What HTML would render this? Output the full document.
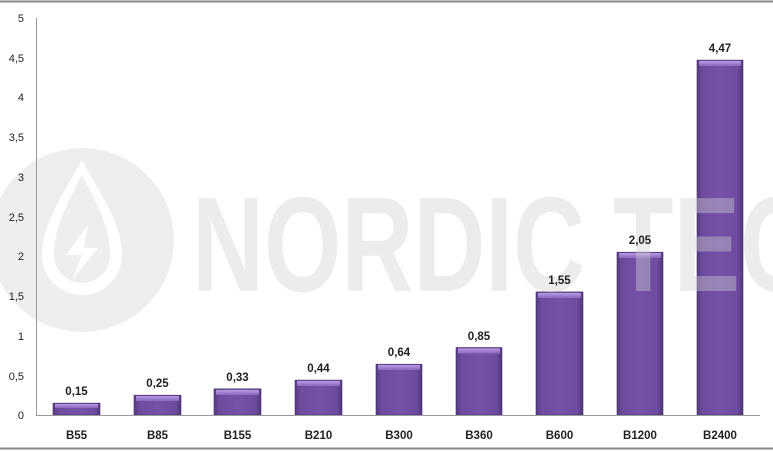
<!DOCTYPE html>
<html><head><meta charset="utf-8"><style>
body{margin:0;background:#fff;}
svg{display:block;font-family:"Liberation Sans",sans-serif;}
</style></head><body>
<svg width="773" height="451" viewBox="0 0 773 451">
<defs>
<linearGradient id="g" x1="0" x2="1" y1="0" y2="0">
<stop offset="0" stop-color="#553a80"/><stop offset="0.12" stop-color="#6e4c9f"/><stop offset="0.5" stop-color="#7551a8"/><stop offset="0.88" stop-color="#6e4c9f"/><stop offset="1" stop-color="#50377a"/>
</linearGradient>
<linearGradient id="t" x1="0" x2="0" y1="0" y2="1">
<stop offset="0" stop-color="#b79be0"/><stop offset="1" stop-color="#8a66c0"/>
</linearGradient>
</defs>
<rect width="773" height="451" fill="#fff"/>
<line x1="0" y1="1.5" x2="773" y2="1.5" stroke="#888" stroke-width="2"/>
<line x1="0" y1="448.5" x2="773" y2="448.5" stroke="#888" stroke-width="2"/>
<g stroke="#4a3270" stroke-width="0.6" fill="url(#g)">
<rect x="53" y="403.1" width="47" height="11.9"/>
<rect x="134" y="395.2" width="47" height="19.8"/>
<rect x="214" y="388.8" width="47" height="26.2"/>
<rect x="295" y="380.1" width="47" height="34.9"/>
<rect x="376" y="364.2" width="46" height="50.8"/>
<rect x="456" y="347.5" width="46" height="67.5"/>
<rect x="536" y="291.9" width="47" height="123.1"/>
<rect x="617" y="252.2" width="46" height="162.8"/>
<rect x="697" y="60.1" width="46" height="354.9"/>
</g>
<g fill="url(#t)">
<rect x="55" y="404" width="43" height="4"/>
<rect x="136" y="396" width="43" height="5"/>
<rect x="216" y="390" width="43" height="5"/>
<rect x="297" y="381" width="43" height="5"/>
<rect x="378" y="365" width="42" height="5"/>
<rect x="458" y="348.5" width="42" height="5"/>
<rect x="538" y="293" width="43" height="5"/>
<rect x="619" y="253" width="42" height="5"/>
<rect x="699" y="61" width="42" height="5"/>
</g>
<g opacity="0.4">
<circle cx="82" cy="240" r="92" fill="#d6d6d6"/>
<path d="M82 160 C60 200 42 225 42 255 A40 40 0 0 0 122 255 C122 225 104 200 82 160Z" fill="#fff"/>
<path d="M82 175 C66 205 54 228 54 255 A28 28 0 0 0 110 255 C110 228 98 205 82 175Z" fill="#d6d6d6"/>
<path d="M88 225 L66 255 L82 255 L72 280 L98 248 L84 248 Z" fill="#fff"/>
<text x="192" y="291" font-family="'Liberation Sans Narrow','Liberation Sans',sans-serif" font-size="135" font-weight="bold" fill="#d2d2d2" textLength="620" lengthAdjust="spacingAndGlyphs">NORDIC TEC</text>
</g>
<g font-size="11" fill="#222" text-anchor="end">
<text x="24" y="419">0</text><text x="24" y="380">0,5</text><text x="24" y="340">1</text><text x="24" y="300">1,5</text><text x="24" y="260">2</text><text x="24" y="221">2,5</text><text x="24" y="181">3</text><text x="24" y="141">3,5</text><text x="24" y="101">4</text><text x="24" y="62">4,5</text><text x="24" y="22">5</text>
</g>
<g font-size="11.5" font-weight="bold" fill="#222" text-anchor="middle">
<text x="76.5" y="395">0,15</text>
<text x="157.5" y="387">0,25</text>
<text x="237.5" y="381">0,33</text>
<text x="318.5" y="372">0,44</text>
<text x="399" y="356">0,64</text>
<text x="479" y="340">0,85</text>
<text x="559.5" y="284">1,55</text>
<text x="640" y="244">2,05</text>
<text x="720" y="52">4,47</text>
<text x="76.5" y="439">B55</text>
<text x="157.5" y="439">B85</text>
<text x="237.5" y="439">B155</text>
<text x="318.5" y="439">B210</text>
<text x="399" y="439">B300</text>
<text x="479" y="439">B360</text>
<text x="559.5" y="439">B600</text>
<text x="640" y="439">B1200</text>
<text x="720" y="439">B2400</text>
</g>
<line x1="36.5" y1="18" x2="36.5" y2="415" stroke="#999"/>
<line x1="36" y1="415.5" x2="760" y2="415.5" stroke="#999"/>
</svg>
</body></html>
